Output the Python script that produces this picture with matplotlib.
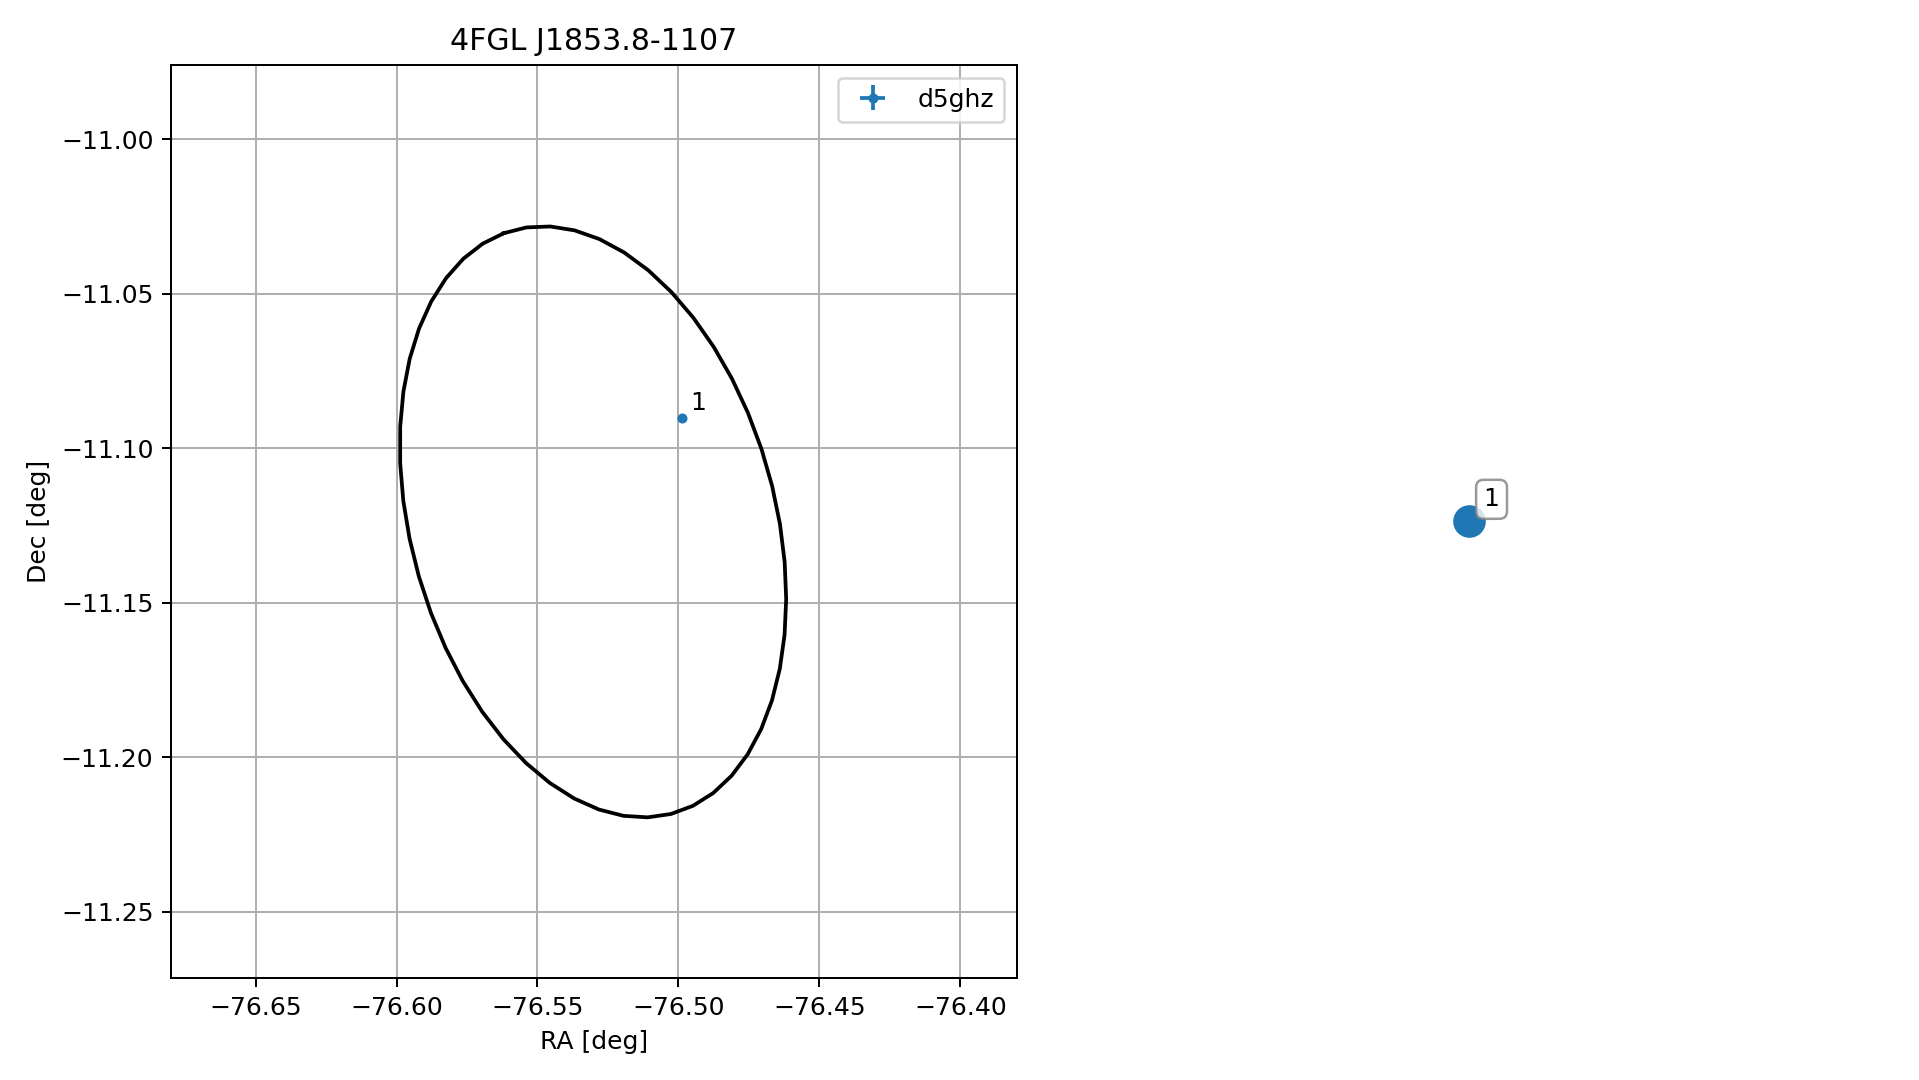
import matplotlib
matplotlib.use("Agg")
import matplotlib.pyplot as plt
import numpy as np

# 4FGL error ellipse (centre, semi-axes, angle of major axis from +x, deg)
ELL_CENTER = (-76.5303, -11.1238)
ELL_AXES = (0.0986, 0.0642)
ELL_ANGLE = 108.7
N_ELL = 50

# radio counterpart(s)
SRC_RA = [-76.4989]
SRC_DEC = [-11.0903]
SRC_ERR_RA = [0.0004]
SRC_ERR_DEC = [0.0004]
SRC_ID = ["1"]

TITLE = "4FGL J1853.8-1107"

DPI = 180
fig = plt.figure(figsize=(1919 / DPI, 1080 / DPI), dpi=DPI)
ax = fig.add_axes([0.0891, 0.0944, 0.4407, 0.8454])

t = np.linspace(0, 2 * np.pi, N_ELL)
phi = np.deg2rad(ELL_ANGLE)
a, b = ELL_AXES
ex = ELL_CENTER[0] + a * np.cos(t) * np.cos(phi) - b * np.sin(t) * np.sin(phi)
ey = ELL_CENTER[1] + a * np.cos(t) * np.sin(phi) + b * np.sin(t) * np.cos(phi)
ax.plot(ex, ey, color="black", lw=1.5)

ax.errorbar(SRC_RA, SRC_DEC, xerr=SRC_ERR_RA, yerr=SRC_ERR_DEC, fmt=".",
            color="tab:blue", label="d5ghz")
for x, y, s in zip(SRC_RA, SRC_DEC, SRC_ID):
    ax.annotate(s, (x, y), xytext=(3.5, 3.5), textcoords="offset points")

ax.set_xlim(-76.680, -76.380)
ax.set_ylim(-11.2714, -10.976)
ax.set_xticks([-76.65, -76.60, -76.55, -76.50, -76.45, -76.40])
ax.set_yticks([-11.25, -11.20, -11.15, -11.10, -11.05, -11.00])
ax.grid(True)
ax.set_xlabel("RA [deg]")
ax.set_ylabel("Dec [deg]")
ax.set_title(TITLE)
ax.legend(loc="upper right")

# overview panel (no axes), source marker with boxed id
ax2 = fig.add_axes([0.7153, 0.4673, 0.1, 0.1])
ax2.axis("off")
ax2.scatter(SRC_RA, SRC_DEC, s=145, color="tab:blue")
for x, y, s in zip(SRC_RA, SRC_DEC, SRC_ID):
    ax2.annotate(s, (x, y), xytext=(6, 6), textcoords="offset points",
                 bbox=dict(boxstyle="round,pad=0.3", fc="white", ec="gray", alpha=0.8))
ax2.set_xlim(SRC_RA[0] - 1, SRC_RA[0] + 1)
ax2.set_ylim(SRC_DEC[0] - 1, SRC_DEC[0] + 1)

fig.savefig("out.png", dpi=DPI)
